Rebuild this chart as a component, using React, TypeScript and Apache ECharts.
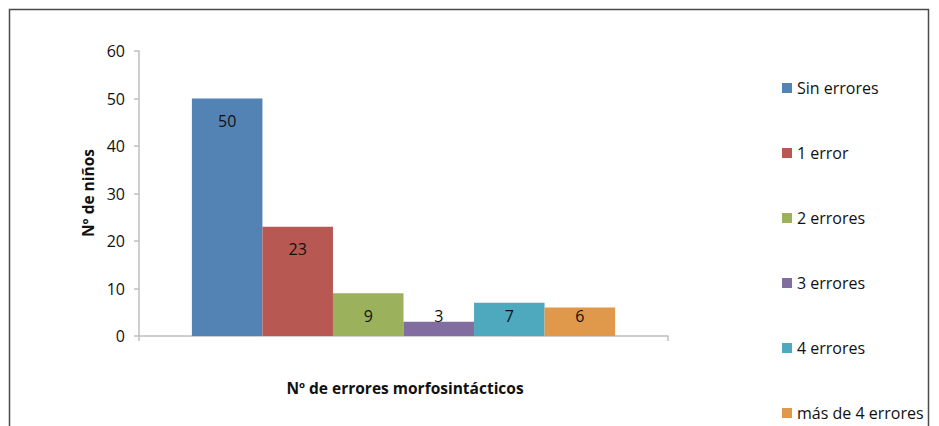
import React, { useEffect, useRef } from "react";
import * as echarts from "echarts";

const categories = [""];
const seriesNames = ["Sin errores", "1 error", "2 errores", "3 errores", "4 errores", "más de 4 errores"];
const seriesValues = [50, 23, 9, 3, 7, 6];
const seriesColors = ["#5383B4", "#B85852", "#9BB15C", "#826DA0", "#4EA8BE", "#E0984B"];
const yTicks = { min: 0, max: 60, interval: 10 };
const yTitle = "Nº de niños";
const xTitle = "Nº de errores morfosintácticos";

const FONT = "'Open Sans', sans-serif";

export default function App() {
  const ref = useRef<HTMLDivElement>(null);
  useEffect(() => {
    if (!ref.current) return;
    const chart = echarts.init(ref.current, undefined, { renderer: "svg" });
    const series = seriesNames.map((name, i) => ({
      name,
      type: "bar",
      barGap: "0%",
      barCategoryGap: "20%",
      itemStyle: { color: seriesColors[i] },
      data: [
        {
          value: seriesValues[i],
          label: seriesValues[i] >= 10
            ? { position: "insideTop", distance: 14 }
            : { position: "insideBottom", distance: 12 },
        },
      ],
      label: {
        show: true,
        color: "#111",
        fontFamily: FONT,
        fontSize: 16,
      },
    }));
    chart.setOption({
      animation: false,
      textStyle: { fontFamily: FONT },
      grid: { left: 139, top: 51, width: 529, height: 285 },
      legend: {
        orient: "vertical",
        left: 782,
        top: 80,
        padding: 0,
        itemWidth: 10,
        itemHeight: 10,
        itemGap: 49,
        icon: "rect",
        textStyle: { fontFamily: FONT, fontSize: 16, color: "#111", lineHeight: 16 },
        data: seriesNames,
      },
      xAxis: {
        type: "category",
        data: categories,
        axisLine: { lineStyle: { color: "#bfbfbf", width: 1.5 } },
        axisTick: { show: true, length: 5, lineStyle: { color: "#bfbfbf", width: 1.5 } },
        axisLabel: { show: false },
      },
      yAxis: {
        type: "value",
        min: yTicks.min,
        max: yTicks.max,
        interval: yTicks.interval,
        axisLine: { show: true, lineStyle: { color: "#bfbfbf", width: 1.5 } },
        axisTick: { show: true, length: 5, lineStyle: { color: "#bfbfbf", width: 1.5 } },
        splitLine: { show: false },
        axisLabel: { fontFamily: FONT, fontSize: 16, color: "#111", margin: 14 },
      },
      graphic: [
        {
          type: "rect",
          shape: { x: 9.5, y: 9.5, width: 919, height: 440 },
          style: { fill: "none", stroke: "#4a4a4a", lineWidth: 1.5 },
          silent: true,
        },
        {
          type: "text",
          x: 88,
          y: 193,
          rotation: Math.PI / 2,
          style: {
            text: yTitle,
            fontFamily: FONT,
            fontSize: 15.5,
            fontWeight: "bold",
            fill: "#111",
            align: "center",
            verticalAlign: "middle",
          },
        },
        {
          type: "text",
          x: 405,
          y: 388,
          style: {
            text: xTitle,
            fontFamily: FONT,
            fontSize: 15.5,
            fontWeight: "bold",
            fill: "#111",
            align: "center",
            verticalAlign: "middle",
          },
        },
      ],
      series,
    });
    return () => chart.dispose();
  }, []);
  return (
    <div
      ref={ref}
      style={{ position: "fixed", left: 0, top: 0, width: 939, height: 426, background: "#fff" }}
    />
  );
}
